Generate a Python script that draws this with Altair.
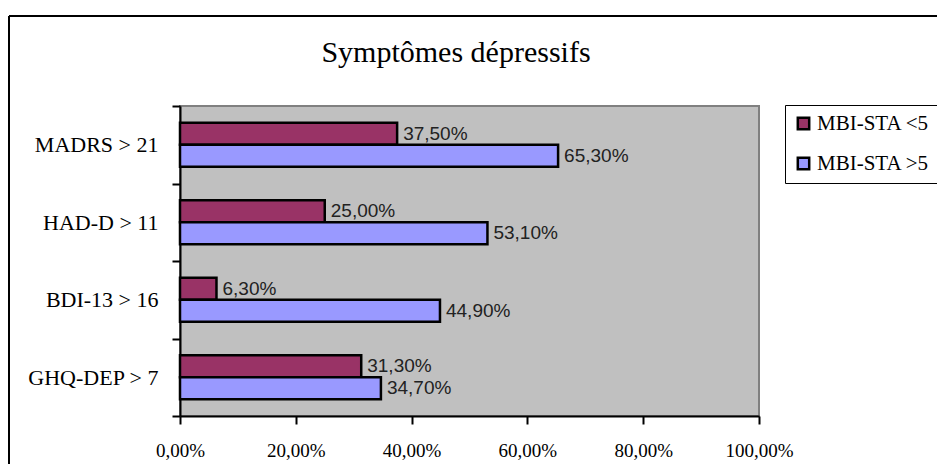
import altair as alt
import pandas as pd

title_text = "Symptômes dépressifs"
categories = ["MADRS > 21", "HAD-D > 11", "BDI-13 > 16", "GHQ-DEP > 7"]
groups = ["MBI-STA <5", "MBI-STA >5"]
low_values = [37.5, 25.0, 6.3, 31.3]
high_values = [65.3, 53.1, 44.9, 34.7]
x_ticks = [0, 20, 40, 60, 80, 100]
colors = ["#993366", "#9999FF"]

rows = []
for c, lo, hi in zip(categories, low_values, high_values):
    rows.append({"cat": c, "grp": groups[0], "val": lo})
    rows.append({"cat": c, "grp": groups[1], "val": hi})
df = pd.DataFrame(rows)

serif = "Liberation Serif"
sans = "Liberation Sans"

y_enc = alt.Y(
    "cat:N", sort=categories,
    scale=alt.Scale(paddingInner=0, paddingOuter=0),
    axis=alt.Axis(title=None, tickBand="extent", tickSize=8, tickWidth=2,
                  tickColor="black", domainColor="black", domainWidth=2,
                  labelFont=serif, labelFontSize=22, labelColor="black",
                  labelPadding=14, grid=False, labelLimit=300),
)
yoff_enc = alt.YOffset("grp:N", sort=groups,
                       scale=alt.Scale(paddingInner=0, paddingOuter=0.76))
x_enc = alt.X(
    "val:Q", scale=alt.Scale(domain=[0, 100], nice=False),
    axis=alt.Axis(title=None, values=x_ticks, grid=False, tickSize=8, tickWidth=2,
                  tickColor="black", domainColor="black", domainWidth=2,
                  labelFont=serif, labelFontSize=19, labelColor="black",
                  labelPadding=17, labelFlush=False,
                  labelExpr="replace(format(datum.value, '.2f'), '.', ',') + '%'"),
)

base = alt.Chart(df)

bars = base.mark_bar(stroke="black", strokeWidth=2.5).encode(
    x=x_enc, y=y_enc, yOffset=yoff_enc,
    color=alt.Color(
        "grp:N", sort=groups,
        scale=alt.Scale(domain=groups, range=colors),
        legend=alt.Legend(
            title=None, orient="none", legendX=605, legendY=-1,
            padding=8, strokeColor="black", fillColor="white",
            symbolType="square", symbolSize=130, symbolStrokeColor="black",
            symbolStrokeWidth=2.5, labelFont=serif, labelFontSize=21,
            labelColor="black", labelOffset=3, rowPadding=17, labelLimit=300,
        ),
    ),
)

text = base.transform_calculate(
    label="replace(format(datum.val, '.2f'), '.', ',') + '%'"
).mark_text(align="left", baseline="middle", dx=6, font=sans, fontSize=19,
            color="#222222").encode(
    x=alt.X("val:Q"), y=alt.Y("cat:N", sort=categories),
    yOffset=alt.YOffset("grp:N", sort=groups), text="label:N",
)

frame_data = alt.Data(values=[{"k": 1}])
frame_top = alt.Chart(frame_data).mark_rule(color="black", strokeWidth=2).encode(
    x=alt.value(-171), x2=alt.value(800), y=alt.value(-90))
frame_left = alt.Chart(frame_data).mark_rule(color="black", strokeWidth=2).encode(
    x=alt.value(-171), y=alt.value(-90), y2=alt.value(400))
title = alt.Chart(frame_data).mark_text(
    font=serif, fontSize=30, color="black", align="center", baseline="alphabetic"
).encode(x=alt.value(276), y=alt.value(-44), text=alt.value(title_text))

chart = alt.layer(frame_top, frame_left, title, bars, text).properties(
    width=579, height=310,
    autosize=alt.AutoSizeParams(type="none"),
    padding={"left": 172, "top": 98, "right": 178, "bottom": 48},
).configure_view(fill="#C0C0C0", stroke="#808080", strokeWidth=2)

chart.save("out.html", embed_options={"renderer": "svg", "actions": False})
